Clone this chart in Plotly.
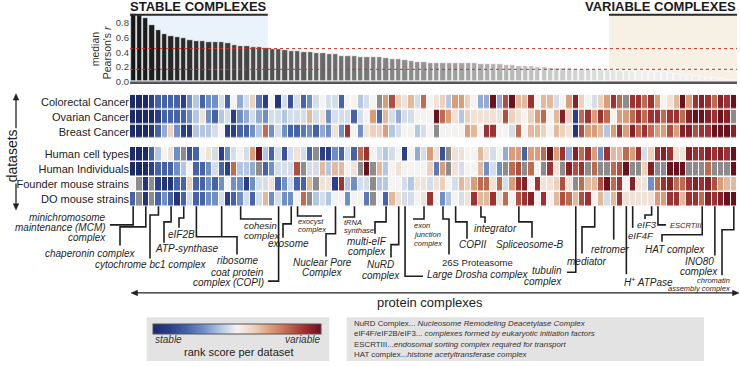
import plotly.graph_objects as go

W, H = 740, 366
X0, X1 = 130, 737          # pixel extent of the complex axis
NCOL = 96

# ---------------- data ----------------
median_r = [0.917, 0.903, 0.867, 0.777, 0.709, 0.642, 0.624, 0.601, 0.588, 0.561,
            0.556, 0.556, 0.543, 0.534, 0.534, 0.525, 0.493, 0.489, 0.489, 0.475,
            0.470, 0.453, 0.448, 0.443, 0.430, 0.412, 0.412, 0.408, 0.403, 0.389,
            0.385, 0.381, 0.372, 0.354, 0.349, 0.345, 0.336, 0.333,
            0.327, 0.327, 0.318, 0.304, 0.300, 0.291, 0.277, 0.264, 0.264, 0.250,
            0.250, 0.250, 0.250, 0.245, 0.245, 0.245, 0.245, 0.241, 0.241, 0.236,
            0.232, 0.223, 0.219, 0.214, 0.209, 0.205, 0.191, 0.191, 0.187, 0.187,
            0.178, 0.178, 0.173, 0.169, 0.169, 0.164, 0.160, 0.155, 0.151, 0.146,
            0.142, 0.142, 0.137, 0.137, 0.133, 0.128, 0.124, 0.115, 0.101, 0.092,
            0.083, 0.070, 0.061, 0.052, 0.043, 0.034, 0.025, 0.016]
complex_index = list(range(len(median_r)))

ref_high = 0.449
ref_low = 0.165
stable_span = (-0.5, 21.3)
variable_span = (75.25, 95.5)

rows_top = ["Colorectal Cancer", "Ovarian Cancer", "Breast Cancer"]
rows_bottom = ["Human cell types", "Human Individuals", "Founder mouse strains", "DO mouse strains"]

# rank score per dataset (0 = most stable ... 10 = most variable, None = not measured)
colorectal = [0,0,0,1,2,2,2,2,1,3,4,2,3,3,4.5,2,5,3.5,4.5,6,2.5,1,5,0.5,4.5,
              1.5,4.5,2,3,4.5,5,4.5,4.5,2,5,5,4,4.5,5,None,7,8.5,6,5.5,6.5,4.5,8,5,5.5,
              6,4,7,7,6,5,3.5,3.5,10,3.5,8.5,10,6.5,6.5,9,5,6.5,6.5,4.5,5,7,9.5,6,5,4.5,
              6,7,9,8,None,9,9,8,9,7,5,5.5,6.5,10,7,9,9.5,9,8,9.5,9,10]
ovarian = [0,0,0,0,1,2,2,2,2,3,4,5.5,3,2,4,4.5,1,3,3.5,4.5,3.5,3,4.5,4.5,4,
           4.5,4.5,4.5,6.5,4.5,5.5,3,4.5,4.5,4.5,2,4.5,5,7,2,6.5,4.5,3.5,4.5,4.5,5,5,5,10,
           8,7,5.5,4,6,5.5,5.5,5.5,5.5,5.5,8.5,6,5.5,5,6,7,8,5,6.5,9.5,6,1,8,9,7,
           9,8,5,7,7,8,9,8,9,9,8,9,9,8,9.5,10,10,9.5,9,10,9.5,None]
breast = [0,0,0,0.5,2,3.5,6,3,1,1,4,4,4,4.5,5,1,1,2,2,3,4,8,3,4.5,3,
          2,2,2.5,3,2,3.5,3,5.5,3,9,5,3,5.5,6,6,7,4,4.5,5,5,4,4.5,5,None,
          5,5,5,5,7,6.5,5,9,9,5,5,4.5,8,5,6.5,6.5,6,5,6.5,6,5.5,0.5,8.5,7,7,
          6.5,4,7,9,7,9.5,8,9,8,7,7,8.5,7,9.5,9.5,8.5,9,9,10,10,10,9.5]
human_cell_types = [0,0,0,2,4,5,5.5,3,None,1.5,2,5,5.5,4.5,1,3,4.5,5,4.5,7,10,4,2,4.5,1.5,
                    4.5,5.5,4.5,2,None,1,1,3,2,4.5,2,8,9,5,4.5,4,4.5,5,1,5,3.5,4.5,7,5.5,
                    1.5,None,5.5,5.5,5,5,6.5,5.5,4.5,5,3.5,7,7,2,7,7,8,10,7,9,3.5,9.5,8,9,7,
                    3,9,6.5,6.5,8,7,9,4.5,6,9,9.5,9,5.5,5.5,9.5,9,9,9.5,9,9.5,9,10]
human_individuals = [0,0,0,1,2,2,2,3,4,5,2,2,3,4.5,2,1,8,4,4,3.5,None,2,3,4.5,4.5,
                     4.5,8.5,None,4.5,4.5,6.5,4,6.5,6.5,5,5.5,None,10,None,6.5,4,5,5.5,5,5,5,5,6,2.5,
                     7,None,5.5,4.5,5,5,6.5,3,4.5,3,None,8,8.5,None,8,5,None,9,5.5,None,9.5,8.5,9,None,8,
                     None,None,8,8.5,10,None,None,6,9.5,None,None,10,10,10,None,None,None,8,None,None,None,10]
founder_mouse = [5,None,0.5,None,1,0.5,0.5,2,2,6,2,2,3,2,3,5,3,3,1,3,4.5,4.5,5.5,2,3,
                 4.5,2,2,6.5,None,5.5,5.5,1,9,4,3,4.5,4.5,None,4,4,5,5,4.5,4,5.5,5.5,4.5,5.5,
                 6,5,4.5,6.5,6,7,8,8,5.5,8,4.5,7,9,9.5,5,9,5.5,5.5,6,8.5,5.5,None,8,6.5,6.5,
                 8.5,10,8,9,5,9.5,5.5,5.5,3,8,9,9.5,8,8,9,9.5,9,9.5,8.5,7,6.5,6.5]
do_mouse = [2,None,0.5,None,2,3,2,0.5,2,4.5,2,2,3,3,4.5,1,2,3,4.5,2,4.5,6.5,3,4.5,3,
            3,5,8,None,4,4.5,4,5,5,3,5,5,2.5,None,5,2,6.5,5.5,4.5,4.5,5,5.5,9,5,
            3,4,5,4.5,5.5,9,6.5,6.5,9,5.5,8,5,8.5,9,9.5,5,9,5,6.5,8.5,8,6.5,8.5,9,5,
            6.5,4.5,6.5,9,5.5,5.5,5.5,5.5,5.5,7,7,9,9,6.5,9,9,8,9.5,9,9.5,10,10]

z_top = [colorectal, ovarian, breast]
z_bottom = [human_cell_types, human_individuals, founder_mouse, do_mouse]

# annotated complexes: name lines and column(s)
complex_labels = [
    (["minichromosome", "maintenance (MCM)", "complex"], [0]),
    (["chaperonin complex"], [2]),
    (["cytochrome bc1 complex"], [4]),
    (["ATP-synthase"], [6]),
    (["eIF2B"], [8]),
    (["ribosome"], [10, 14]),
    (["cohesin", "complex"], [17]),
    (["coat protein", "complex (COPI)"], [23]),
    (["exosome"], [25]),
    (["exocyst", "complex"], [26]),
    (["Nuclear Pore", "Complex"], [32]),
    (["tRNA", "synthase"], [35]),
    (["multi-eIF", "complex"], [40]),
    (["NuRD", "complex"], [42]),
    (["Large Drosha complex"], [43]),
    (["exon", "junction", "complex"], [46]),
    (["26S Proteasome"], [49]),
    (["COPII"], [51]),
    (["integrator"], [55]),
    (["Spliceosome-B"], [61]),
    (["tubulin", "complex"], [70]),
    (["mediator"], [73]),
    (["retromer"], [76]),
    (["H<sup>+</sup> ATPase"], [78]),
    (["eIF4F"], [79]),
    (["eIF3"], [82]),
    (["ESCRTIII"], [83]),
    (["HAT complex"], [90]),
    (["INO80", "complex"], [92]),
    (["chromatin", "assembly complex"], [95]),
]

legend_lines = [
    "NuRD Complex... <i>Nucleosome Remodeling Deacetylase Complex</i>",
    "eIF4F/eIF2B/eIF3... <i>complexes formed by eukaryotic initiation factors</i>",
    "ESCRTIII...<i>endosomal sorting complex required for transport</i>",
    "HAT complex...<i>histone acetyltransferase complex</i>",
]

# ---------------- helpers (pixel -> paper) ----------------
def PX(x):
    return x / W

def PY(y):
    return 1 - y / H

def colx(c):
    return X0 + (c + 0.5) * (X1 - X0) / NCOL

FONT = "Liberation Sans, Arial, sans-serif"

cscale = [[0.0, '#1c2a6b'], [0.1, '#2a3d8f'], [0.2, '#4563ad'], [0.3, '#6f8fc8'],
          [0.4, '#b3c6e3'], [0.5, '#f5f3f1'], [0.6, '#edd1bd'], [0.7, '#dc9c78'],
          [0.8, '#c06a50'], [0.9, '#a33030'], [1.0, '#6e0f1c']]

def bar_gray(i):
    g = int(min(238, 22 + 216 * i / 80))
    return f"rgb({g},{g},{g})"

fig = go.Figure()

fig.add_trace(go.Bar(
    x=complex_index, y=median_r,
    marker=dict(color=[bar_gray(i) for i in complex_index], line=dict(color='white', width=0.6)),
    width=0.84, xaxis='x', yaxis='y', showlegend=False, hoverinfo='skip'))

def missing_mask(z):
    return [[1 if v is None else None for v in row] for row in z]

gray_cs = [[0, '#8c8c8c'], [1, '#8c8c8c']]

fig.add_trace(go.Heatmap(
    z=z_top, x=complex_index, y=list(range(3)), colorscale=cscale, zmin=0, zmax=10,
    xgap=1, ygap=1.5, xaxis='x', yaxis='y2', hoverinfo='skip',
    showscale=True,
    colorbar=dict(orientation='h', x=PX(153.3), xanchor='left', y=PY(328.3), yanchor='top',
                  len=(321.7 - 153.3) / W, lenmode='fraction', thickness=9.5, thicknessmode='pixels',
                  showticklabels=False, ticks='', outlinewidth=1, outlinecolor='#555',
                  xpad=0, ypad=0)))
fig.add_trace(go.Heatmap(
    z=missing_mask(z_top), x=complex_index, y=list(range(3)), colorscale=gray_cs,
    zmin=0, zmax=1, xgap=1, ygap=1.5, xaxis='x', yaxis='y2', showscale=False, hoverinfo='skip'))
fig.add_trace(go.Heatmap(
    z=z_bottom, x=complex_index, y=list(range(4)), colorscale=cscale, zmin=0, zmax=10,
    xgap=1, ygap=1.5, xaxis='x', yaxis='y3', showscale=False, hoverinfo='skip'))
fig.add_trace(go.Heatmap(
    z=missing_mask(z_bottom), x=complex_index, y=list(range(4)), colorscale=gray_cs,
    zmin=0, zmax=1, xgap=1, ygap=1.5, xaxis='x', yaxis='y3', showscale=False, hoverinfo='skip'))

shapes = []
annotations = []

def path_str(points, close=False):
    s = 'M ' + ' L '.join(f'{PX(x):.5f},{PY(y):.5f}' for x, y in points)
    return s + (' Z' if close else '')

def note(text, x, y, size, xanchor='center', yanchor='middle', color='#222', **kw):
    d = dict(text=text, x=PX(x), y=PY(y), xref='paper', yref='paper', xanchor=xanchor,
             yanchor=yanchor, showarrow=False, font=dict(size=size, color=color, family=FONT))
    d.update(kw)
    annotations.append(d)

# shaded zones
shapes.append(dict(type='rect', xref='x', yref='paper', x0=stable_span[0], x1=stable_span[1],
                   y0=PY(83), y1=PY(15), fillcolor='#eaf3fb', line_width=0, layer='below'))
shapes.append(dict(type='rect', xref='x', yref='paper', x0=variable_span[0], x1=variable_span[1],
                   y0=PY(83), y1=PY(15), fillcolor='#f7f0e4', line_width=0, layer='below'))
for span in (stable_span, variable_span):
    shapes.append(dict(type='line', xref='x', yref='paper', x0=span[0], x1=span[1],
                       y0=PY(15), y1=PY(15), line=dict(color='#2a2a2a', width=2)))
# reference lines
for v in (ref_high, ref_low):
    shapes.append(dict(type='line', xref='paper', yref='y', x0=PX(X0), x1=PX(X1), y0=v, y1=v,
                       line=dict(color='#c0392b', width=1, dash='dot')))
# baseline
shapes.append(dict(type='line', xref='paper', yref='paper', x0=PX(X0), x1=PX(X1),
                   y0=PY(84), y1=PY(84), line=dict(color='#555555', width=2.5)))

note('<b>STABLE COMPLEXES</b>', 199, 7, 13, color='#1a1a1a')
note('<b>VARIABLE COMPLEXES</b>', 738, 7, 13, xanchor='right', color='#1a1a1a')
note('median', 95, 50, 10.5, color='#333', textangle=-90)
note("Pearson's <i>r</i>", 107, 54, 10.5, color='#333', textangle=-90)

# double-headed arrows (drawn as shapes)
ARW = '#222'
for ya, yb in ((99, 130), (186, 209)):
    shapes.append(dict(type='line', xref='paper', yref='paper', x0=PX(16), x1=PX(16), y0=PY(ya), y1=PY(yb),
                       line=dict(color=ARW, width=1.3)))
shapes.append(dict(type='path', xref='paper', yref='paper', path=path_str([(16, 95), (13.2, 101.5), (18.8, 101.5)], True),
                   fillcolor=ARW, line=dict(color=ARW, width=0.5)))
shapes.append(dict(type='path', xref='paper', yref='paper', path=path_str([(16, 213), (13.2, 206.5), (18.8, 206.5)], True),
                   fillcolor=ARW, line=dict(color=ARW, width=0.5)))
shapes.append(dict(type='line', xref='paper', yref='paper', x0=PX(135), x1=PX(735), y0=PY(297), y1=PY(297),
                   line=dict(color=ARW, width=1.3)))
shapes.append(dict(type='path', xref='paper', yref='paper', path=path_str([(131, 297), (137.5, 294.2), (137.5, 299.8)], True),
                   fillcolor=ARW, line=dict(color=ARW, width=0.5)))
shapes.append(dict(type='path', xref='paper', yref='paper', path=path_str([(739, 297), (732.5, 294.2), (732.5, 299.8)], True),
                   fillcolor=ARW, line=dict(color=ARW, width=0.5)))
note('datasets', 11.5, 158, 14, textangle=-90)
note('protein complexes', 430, 307, 13)

# leader-line layout for each annotated complex: (bends after start, text x, first-line y, anchor, size, spacing)
TOP = 209
layout_spec = {
    "minichromosome": ([(None, 228), (110, 228)], 108, 221, 'right', 10, 10),
    "chaperonin complex": ([(None, 230), (120, 230), (120, 249)], 90, 257, 'center', 10, 10),
    "cytochrome bc1 complex": ([(None, 218), (150, 218), (150, 262)], 151, 268, 'center', 10, 10),
    "ATP-synthase": ([(None, 225), (164, 225), (164, 246)], 187, 252, 'center', 10, 10),
    "eIF2B": ([(None, 221), (179, 221), (179, 231)], 181, 238, 'center', 10, 10),
    "ribosome": ([(None, 240), (237, 240), (237, 258)], 238, 264, 'center', 10, 10),
    "cohesin": ([(None, 222), (272, 222)], 242, 229, 'left', 9.5, 9.5),
    "coat protein": ([(None, 285), (268, 285)], 266, 276.5, 'right', 10, 10),
    "exosome": ([(None, 227), (283, 227), (283, 241)], 288, 247, 'center', 10, 10),
    "exocyst": ([(None, 219), (322, 219)], 296, 225, 'left', 7.5, 8),
    "Nuclear Pore": ([(None, 237), (326, 237), (326, 260)], 322, 266, 'center', 10, 10.5),
    "tRNA": ([(None, 220), (343, 220)], 342, 226, 'left', 7.5, 8),
    "multi-eIF": ([(None, 225), (375, 225), (375, 237)], 367, 245, 'center', 10, 10),
    "NuRD": ([(None, 248), (391, 248), (391, 261)], 381, 268, 'center', 10, 11),
    "Large Drosha complex": ([(None, 280), (423, 280)], 425, 278, 'left', 10, 10),
    "exon": ([(None, 222), (413, 222)], 412, 229, 'left', 7.5, 8.7),
    "26S Proteasome": ([(None, 222), (449, 222), (449, 258)], 477, 266, 'center', 9.5, 10),
    "COPII": ([(None, 225), (467, 225), (467, 242)], 472, 248, 'center', 10, 10),
    "integrator": ([(None, 220), (485, 220), (485, 226)], 495, 232, 'center', 10, 10),
    "Spliceosome-B": ([(None, 225), (532, 225), (532, 241)], 530, 248, 'center', 10, 10),
    "tubulin": ([(None, 276), (567, 276)], 564, 274, 'right', 10, 11),
    "mediator": ([(None, 230), (582, 230), (582, 257)], 587, 265, 'center', 10, 10),
    "retromer": ([(None, 243)], 610, 253, 'center', 10, 10),
    "H<sup>+</sup> ATPase": ([(None, 278)], 648, 286, 'center', 10, 10),
    "eIF4F": ([(None, 231)], 641, 239, 'center', 9.5, 10),
    "eIF3": ([(None, 218), (645, 218), (645, 222)], 647, 227.5, 'center', 9.5, 10),
    "ESCRTIII": ([(None, 228), (666, 228)], 668, 229, 'left', 7.5, 8),
    "HAT complex": ([(None, 238), (662, 238), (662, 245)], 675, 253, 'center', 10, 10),
    "INO80": ([(None, 259)], 699, 265, 'center', 10, 10.5),
    "chromatin": ([(None, 233), (722, 233), (722, 279)], 732, 284, 'right', 7.5, 8.5),
}

for lines, cols in complex_labels:
    bends, tx, ty, anchor, size, spacing = layout_spec[lines[0]]
    for ci, c in enumerate(cols):
        xs = colx(c)
        pts = [(xs, TOP)]
        if ci == 0:
            for bx, by in bends:
                pts.append((xs if bx is None else bx, by))
        else:
            pts.append((xs, bends[0][1]))
        shapes.append(dict(type='path', xref='paper', yref='paper', path=path_str(pts),
                           line=dict(color='#1e1e1e', width=1.6)))
    italic = not lines[0].startswith('26S')
    for k, ln in enumerate(lines):
        txt = f'<i>{ln}</i>' if italic else ln
        note(txt, tx, ty + k * spacing, size, xanchor=anchor, color='#1e1e1e')

# bottom boxes
shapes.append(dict(type='rect', xref='paper', yref='paper', x0=PX(146.7), x1=PX(329.3), y0=PY(366), y1=PY(321.7),
                   fillcolor='#e3e3e3', line_width=0, layer='below'))
shapes.append(dict(type='rect', xref='paper', yref='paper', x0=PX(346.7), x1=PX(704), y0=PY(366), y1=PY(321.7),
                   fillcolor='#e3e3e3', line_width=0, layer='below'))
note('<i>stable</i>', 153, 344, 10, xanchor='left', color='#333')
note('<i>variable</i>', 322, 344, 10, xanchor='right', color='#333')
note('rank score per dataset', 239, 356.7, 11)
note('<br>'.join(legend_lines), 353, 343.5, 7.9, xanchor='left', color='#333', align='left', borderpad=0)

fig.update_layout(
    width=W, height=H, margin=dict(l=0, r=0, t=0, b=0, pad=0),
    paper_bgcolor='white', plot_bgcolor='rgba(0,0,0,0)',
    font=dict(family=FONT, color='#333'),
    bargap=0, showlegend=False,
    xaxis=dict(domain=[PX(X0), PX(X1)], range=[-0.5, NCOL - 0.5], visible=False, fixedrange=True),
    yaxis=dict(domain=[PY(82.5), PY(82.5 - 0.95 * 74)], range=[0, 0.95], anchor='x',
               tickvals=[0, 0.2, 0.4, 0.6, 0.8], ticktext=['0.0', '0.2', '0.4', '0.6', '0.8'],
               showgrid=False, zeroline=False, showline=False, ticks='',
               tickfont=dict(size=9.5, color='#444')),
    yaxis2=dict(domain=[PY(141), PY(96)], range=[2.5, -0.5], anchor='x',
                tickvals=list(range(3)), ticktext=rows_top, showgrid=False, zeroline=False,
                ticks='', tickfont=dict(size=11, color='#222')),
    yaxis3=dict(domain=[PY(209.5), PY(149)], range=[3.5, -0.5], anchor='x',
                tickvals=list(range(4)), ticktext=rows_bottom, showgrid=False, zeroline=False,
                ticks='', tickfont=dict(size=11, color='#222')),
    shapes=shapes, annotations=annotations,
)

fig.write_html("out.html", config={'displayModeBar': False},
               post_script="document.body.style.margin='0px';document.body.style.overflow='hidden';")
